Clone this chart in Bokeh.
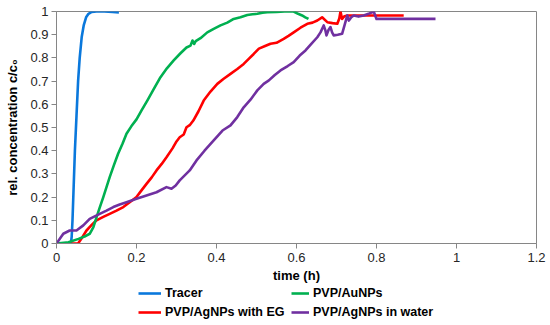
from bokeh.plotting import figure
from bokeh.layouts import column
from bokeh.models import Legend, LegendItem, FixedTicker, CustomJSTickFormatter, Range1d
from bokeh.embed import file_html
from bokeh.resources import INLINE

# ---- data ----
tracer_x = [0, 0.036, 0.038, 0.040, 0.043, 0.046, 0.050, 0.054, 0.058, 0.063, 0.068,
            0.074, 0.080, 0.088, 0.100, 0.120, 0.140, 0.156]
tracer_y = [0, 0, 0.03, 0.10, 0.25, 0.40, 0.55, 0.70, 0.80, 0.89, 0.94,
            0.975, 0.99, 0.998, 1.0, 1.0, 0.998, 0.996]

au_x = [0, 0.03, 0.055, 0.07, 0.083, 0.092, 0.10, 0.108, 0.117, 0.125, 0.133, 0.144,
        0.154, 0.165, 0.175, 0.187, 0.2, 0.213, 0.227, 0.243, 0.26, 0.276, 0.293, 0.31,
        0.325, 0.335, 0.34, 0.344, 0.348, 0.36, 0.377, 0.393, 0.41, 0.427, 0.443, 0.46,
        0.477, 0.49, 0.502, 0.515, 0.527, 0.55, 0.57, 0.593, 0.604, 0.614, 0.622, 0.63]
au_y = [0, 0.005, 0.02, 0.03, 0.042, 0.07, 0.113, 0.155, 0.2, 0.243, 0.286, 0.34,
        0.387, 0.43, 0.473, 0.505, 0.535, 0.575, 0.616, 0.665, 0.717, 0.755, 0.789, 0.82,
        0.845, 0.853, 0.875, 0.86, 0.872, 0.885, 0.91, 0.925, 0.94, 0.952, 0.968, 0.975,
        0.985, 0.988, 0.99, 0.995, 0.997, 0.998, 1.0, 1.0, 0.99, 0.983, 0.975, 0.968]

eg_x = [0, 0.03, 0.054, 0.065, 0.075, 0.088, 0.10, 0.117, 0.133, 0.15, 0.167, 0.183,
        0.2, 0.212, 0.225, 0.238, 0.25, 0.263, 0.275, 0.29, 0.3, 0.308, 0.318, 0.325,
        0.333, 0.342, 0.355, 0.368, 0.385, 0.402, 0.418, 0.435, 0.452, 0.468, 0.48,
        0.493, 0.506, 0.52, 0.535, 0.55, 0.568, 0.58, 0.593, 0.61, 0.627, 0.64, 0.652,
        0.664, 0.677, 0.69, 0.702, 0.707, 0.71, 0.714, 0.72, 0.727, 0.75, 0.8, 0.868]
eg_y = [0, 0, 0, 0.028, 0.056, 0.08, 0.1, 0.115, 0.128, 0.142, 0.157, 0.178,
        0.2, 0.228, 0.257, 0.285, 0.315, 0.343, 0.372, 0.41, 0.44, 0.458, 0.47, 0.501,
        0.51, 0.53, 0.57, 0.616, 0.655, 0.688, 0.71, 0.731, 0.752, 0.774, 0.795,
        0.817, 0.84, 0.85, 0.861, 0.865, 0.882, 0.895, 0.91, 0.93, 0.947, 0.952, 0.961,
        0.975, 0.954, 0.95, 0.947, 0.97, 1.0, 0.968, 0.98, 0.983, 0.983, 0.983, 0.983]

water_x = [0, 0.017, 0.033, 0.05, 0.067, 0.083, 0.108, 0.125, 0.142, 0.158, 0.175, 0.2,
           0.225, 0.25, 0.275, 0.2875, 0.298, 0.308, 0.333, 0.35, 0.37, 0.393, 0.415,
           0.435, 0.452, 0.468, 0.485, 0.502, 0.518, 0.531, 0.545, 0.56, 0.578, 0.593,
           0.608, 0.6225, 0.637, 0.652, 0.66, 0.668, 0.672, 0.675, 0.68, 0.685, 0.689,
           0.693, 0.703, 0.714, 0.72, 0.727, 0.731, 0.737, 0.743, 0.755, 0.768, 0.78,
           0.793, 0.80, 0.85, 0.9475]
water_y = [0, 0.042, 0.056, 0.056, 0.078, 0.106, 0.128, 0.142, 0.157, 0.168, 0.178, 0.193,
           0.207, 0.221, 0.243, 0.236, 0.25, 0.272, 0.315, 0.358, 0.4, 0.444, 0.487,
           0.509, 0.545, 0.587, 0.62, 0.66, 0.688, 0.703, 0.725, 0.746, 0.765, 0.782,
           0.81, 0.832, 0.86, 0.889, 0.91, 0.94, 0.92, 0.897, 0.92, 0.933, 0.91,
           0.897, 0.9, 0.904, 0.94, 0.983, 0.961, 0.975, 0.983, 0.978, 0.983, 0.99,
           1.0, 0.968, 0.968, 0.968]

series_names = ["Tracer", "PVP/AgNPs with EG", "PVP/AuNPs", "PVP/AgNPs in water"]
series_colors = ["#0A78DC", "#FF0000", "#00B050", "#7030A0"]

x_ticks = [0, 0.2, 0.4, 0.6, 0.8, 1.0, 1.2]
y_ticks = [0, 0.1, 0.2, 0.3, 0.4, 0.5, 0.6, 0.7, 0.8, 0.9, 1.0]

FONT = "Liberation Sans"
AXIS_GRAY = "#868686"
LW = 2.6

p = figure(width=550, height=285, output_backend="svg", toolbar_location=None,
           x_range=Range1d(0, 1.2), y_range=Range1d(0, 1),
           min_border_left=56, min_border_right=14, min_border_top=11,
           min_border_bottom=42)

p.grid.visible = False
p.outline_line_color = AXIS_GRAY
p.outline_line_width = 1

for ax in (p.xaxis[0], p.yaxis[0]):
    ax.axis_line_color = AXIS_GRAY
    ax.major_tick_line_color = AXIS_GRAY
    ax.minor_tick_line_color = None
    ax.major_tick_out = 5
    ax.major_tick_in = 0
    ax.major_label_text_font = FONT
    ax.major_label_text_font_size = "13px"
    ax.major_label_text_color = "#262626"
    ax.axis_label_text_font = FONT
    ax.axis_label_text_font_size = "13px"
    ax.axis_label_text_font_style = "bold"
    ax.axis_label_text_color = "#000000"

p.xaxis.ticker = FixedTicker(ticks=x_ticks)
p.yaxis.ticker = FixedTicker(ticks=y_ticks)
p.xaxis.formatter = CustomJSTickFormatter(code="return String(Math.round(tick*10)/10);")
p.yaxis.formatter = CustomJSTickFormatter(code="return String(Math.round(tick*10)/10);")
p.xaxis.major_label_standoff = 4
p.yaxis.major_label_standoff = 3
p.xaxis.axis_label = "time (h)"
p.yaxis.axis_label = "rel. concentration c/c\u2080"
p.xaxis.axis_label_standoff = 3
p.yaxis.axis_label_standoff = 7

xs = [tracer_x, eg_x, au_x, water_x]
ys = [tracer_y, eg_y, au_y, water_y]
for x, y, c in zip(xs, ys, series_colors):
    p.line(x, y, line_color=c, line_width=LW, line_join="round")

# ---- legend strip below the chart (its key lines hold the series, kept out of view) ----
lf = figure(width=550, height=40, output_backend="svg", toolbar_location=None,
            x_range=Range1d(0, 1), y_range=Range1d(5, 6),
            x_axis_type=None, y_axis_type=None,
            min_border_left=0, min_border_right=0, min_border_top=0, min_border_bottom=0)
lf.grid.visible = False
lf.outline_line_color = None

key_renderers = [lf.line(x, y, line_color=c, line_width=LW) for x, y, c in zip(xs, ys, series_colors)]
# key_renderers order: Tracer, EG, AuNPs, water


def make_legend(idx, loc, gw):
    return Legend(items=[LegendItem(label=series_names[i], renderers=[key_renderers[i]]) for i in idx],
                  location=loc, orientation="vertical",
                  padding=0, margin=0, spacing=5,
                  glyph_width=gw, glyph_height=14, label_height=14,
                  label_standoff=4, border_line_alpha=0, background_fill_alpha=0,
                  label_text_font=FONT, label_text_font_size="12.5px",
                  label_text_font_style="bold", label_text_color="#000000")


lf.add_layout(make_legend([0, 1], (82, 6), 23), "center")
lf.add_layout(make_legend([2, 3], (235, 6), 18), "center")

layout = column(p, lf, spacing=0)
open("out.html", "w").write(file_html(layout, INLINE))
